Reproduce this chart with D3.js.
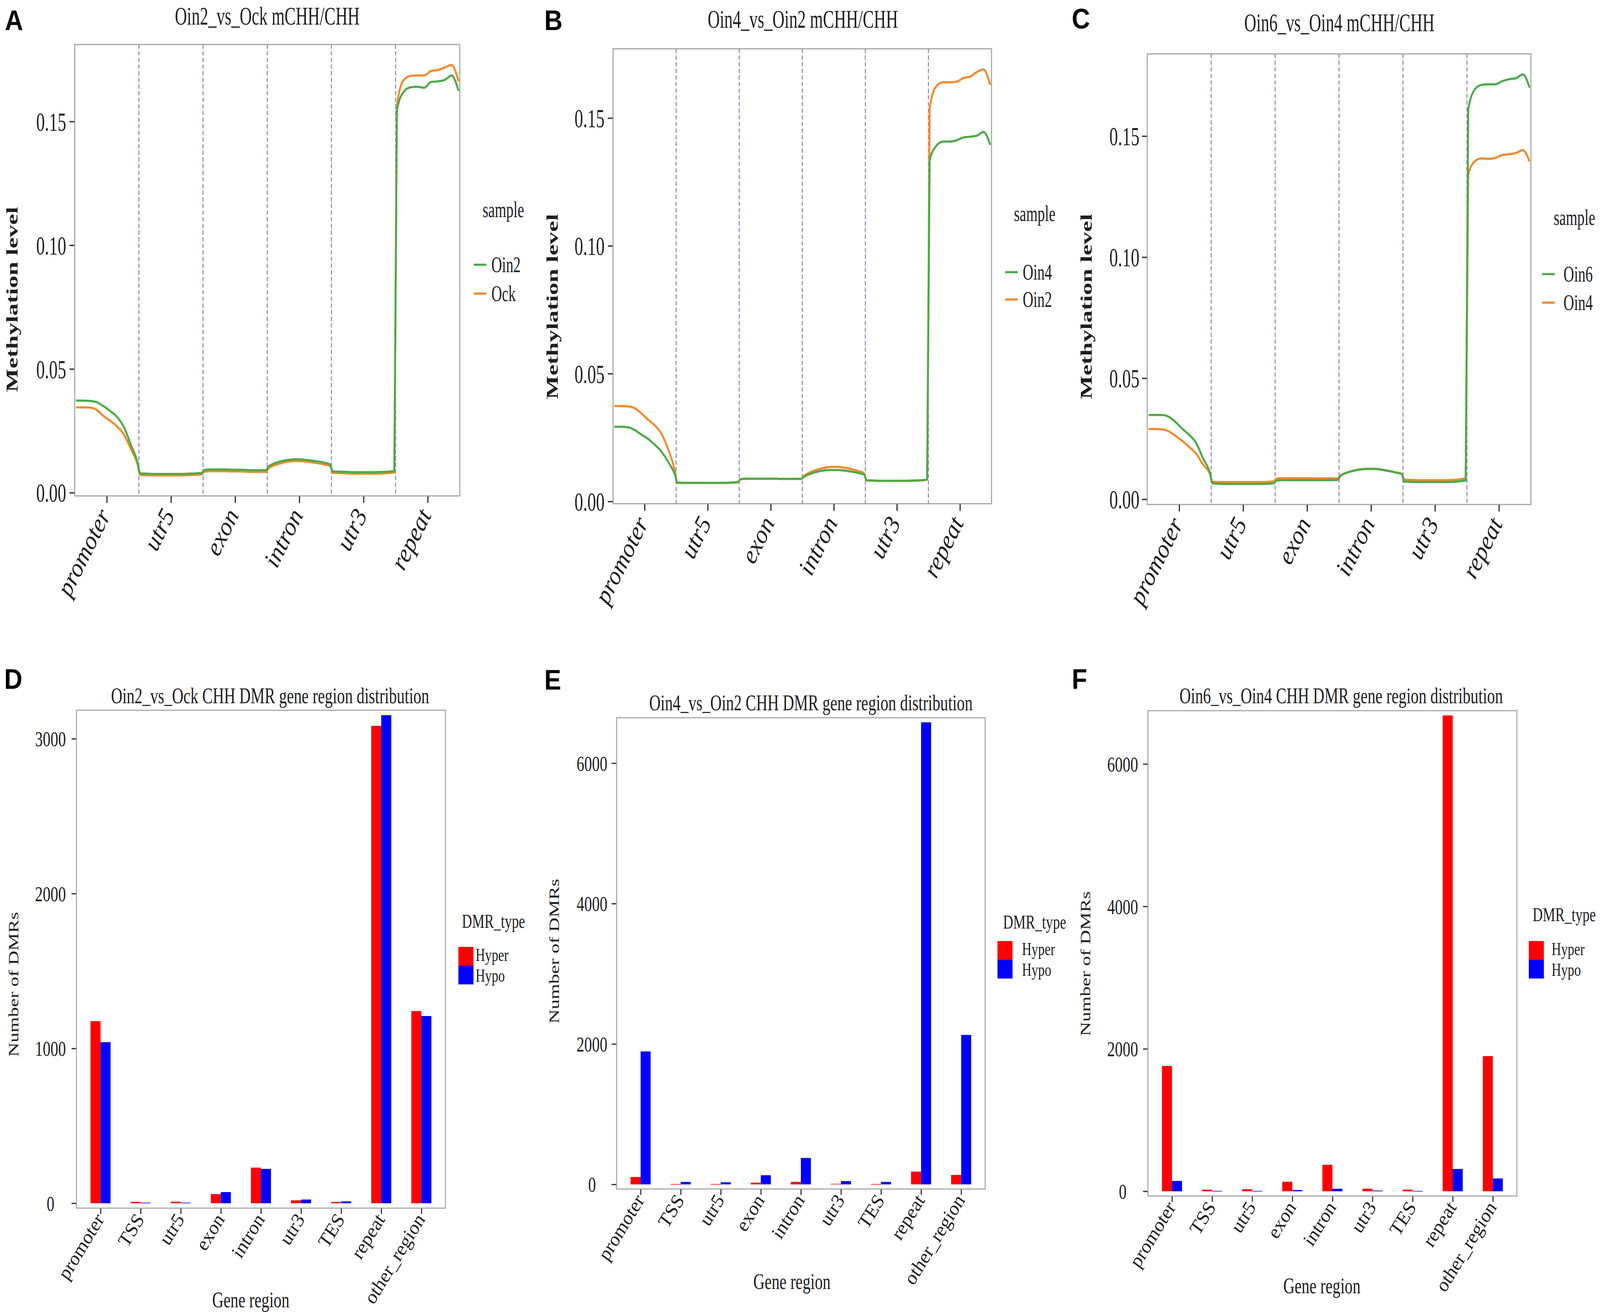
<!DOCTYPE html>
<html><head><meta charset="utf-8">
<script src="https://cdn.jsdelivr.net/npm/d3@7"></script>
<style>html,body{margin:0;padding:0;width:100%;height:100%;overflow:hidden;background:#fff}svg{display:block;background:#fff;width:100vw;height:100vh}</style>
</head><body>
<svg id="chart" viewBox="0 0 4562 3360" preserveAspectRatio="none"></svg>
<script>
// ---------------- DATA ----------------
const REGIONS = ['promoter','utr5','exon','intron','utr3','repeat'];
const LINE_Y_TICKS = [0, 0.05, 0.10, 0.15];
const GENE_REGIONS = ['promoter','TSS','utr5','exon','intron','utr3','TES','repeat','other_region'];
const D_Y_TICKS = [0, 1000, 2000, 3000];
const EF_Y_TICKS = [0, 2000, 4000, 6000];

// 10 profile bins per region (promoter, utr5, exon, intron, utr3, repeat)
const A_Oin2 = [0.0372,0.0372,0.0371,0.0366,0.0350,0.0330,0.0306,0.0265,0.0195,0.0122,
  0.0078,0.0077,0.0076,0.0076,0.0076,0.0076,0.0076,0.0077,0.0078,0.0080,
  0.0092,0.0094,0.0094,0.0094,0.0093,0.0093,0.0092,0.0091,0.0091,0.0091,
  0.0105,0.0120,0.0128,0.0133,0.0135,0.0134,0.0131,0.0127,0.0122,0.0114,
  0.0086,0.0085,0.0084,0.0083,0.0083,0.0083,0.0083,0.0084,0.0085,0.0088,
  0.1545,0.1620,0.1638,0.1640,0.1636,0.1660,0.1662,0.1668,0.1686,0.1624];
const A_Ock = [0.0345,0.0345,0.0344,0.0335,0.0310,0.0290,0.0268,0.0235,0.0178,0.0114,
  0.0072,0.0071,0.0070,0.0070,0.0070,0.0070,0.0070,0.0071,0.0072,0.0074,
  0.0085,0.0087,0.0087,0.0087,0.0086,0.0086,0.0085,0.0084,0.0084,0.0084,
  0.0098,0.0112,0.0121,0.0126,0.0128,0.0127,0.0124,0.0120,0.0115,0.0108,
  0.0080,0.0079,0.0078,0.0077,0.0077,0.0077,0.0077,0.0078,0.0079,0.0082,
  0.1565,0.1668,0.1684,0.1686,0.1686,0.1704,0.1708,0.1718,0.1728,0.1662];
const B_Oin4 = [0.0292,0.0292,0.0290,0.0280,0.0262,0.0245,0.0222,0.0195,0.0155,0.0105,
  0.0074,0.0073,0.0073,0.0073,0.0073,0.0073,0.0073,0.0073,0.0074,0.0076,
  0.0087,0.0089,0.0089,0.0089,0.0089,0.0089,0.0088,0.0088,0.0088,0.0088,
  0.0095,0.0108,0.0116,0.0121,0.0123,0.0123,0.0121,0.0117,0.0112,0.0105,
  0.0083,0.0082,0.0081,0.0081,0.0081,0.0081,0.0081,0.0082,0.0083,0.0086,
  0.1335,0.1392,0.1408,0.1408,0.1413,0.1424,0.1427,0.1431,0.1446,0.1395];
const B_Oin2 = [0.0373,0.0373,0.0372,0.0365,0.0345,0.0320,0.0298,0.0265,0.0205,0.0120,
  0.0073,0.0072,0.0072,0.0072,0.0072,0.0072,0.0072,0.0072,0.0073,0.0075,
  0.0087,0.0089,0.0089,0.0089,0.0089,0.0089,0.0088,0.0088,0.0088,0.0088,
  0.0098,0.0114,0.0124,0.0131,0.0135,0.0135,0.0132,0.0127,0.0120,0.0110,
  0.0082,0.0081,0.0080,0.0080,0.0080,0.0080,0.0080,0.0081,0.0082,0.0085,
  0.1540,0.1625,0.1640,0.1640,0.1642,0.1657,0.1662,0.1680,0.1690,0.1630];
const C_Oin6 = [0.0348,0.0348,0.0348,0.0340,0.0318,0.0290,0.0265,0.0232,0.0168,0.0110,
  0.0066,0.0064,0.0063,0.0063,0.0063,0.0063,0.0063,0.0063,0.0064,0.0066,
  0.0077,0.0079,0.0079,0.0079,0.0079,0.0079,0.0079,0.0079,0.0079,0.0080,
  0.0096,0.0110,0.0118,0.0123,0.0125,0.0125,0.0122,0.0117,0.0111,0.0104,
  0.0073,0.0072,0.0071,0.0071,0.0071,0.0071,0.0071,0.0072,0.0074,0.0078,
  0.1610,0.1694,0.1712,0.1714,0.1714,0.1727,0.1735,0.1739,0.1755,0.1700];
const C_Oin4 = [0.0290,0.0290,0.0289,0.0280,0.0261,0.0240,0.0215,0.0188,0.0143,0.0105,
  0.0073,0.0071,0.0071,0.0071,0.0071,0.0071,0.0071,0.0071,0.0072,0.0074,
  0.0085,0.0087,0.0087,0.0087,0.0087,0.0087,0.0086,0.0086,0.0086,0.0087,
  0.0097,0.0111,0.0119,0.0124,0.0126,0.0126,0.0123,0.0118,0.0112,0.0105,
  0.0081,0.0080,0.0079,0.0079,0.0079,0.0079,0.0079,0.0080,0.0082,0.0086,
  0.1340,0.1397,0.1408,0.1406,0.1410,0.1422,0.1425,0.1430,0.1442,0.1395];

// DMR counts per gene region
const D_Hyper = [1176, 9, 10, 59, 230, 19, 8, 3083, 1241];
const D_Hypo  = [1040, 4, 4, 72, 222, 24, 12, 3152, 1209];
const E_Hyper = [105, 5, 5, 24, 35, 8, 5, 182, 135];
const E_Hypo  = [1894, 35, 30, 130, 376, 47, 35, 6582, 2129];
const F_Hyper = [1759, 23, 29, 134, 372, 35, 23, 6682, 1898];
const F_Hypo  = [145, 5, 5, 17, 35, 10, 5, 313, 180];

// ---------------- STYLE / LAYOUT ----------------
const SERIF = "'Liberation Serif','Times New Roman',serif";
const SANS = "'Liberation Sans',Arial,sans-serif";
const GREEN = '#4bab48', ORANGE = '#f5892a', RED = '#ff0000', BLUE = '#0000ff';
const TXT = '#1e1e1e';
const svg = d3.select('#chart');

function label(g, str, x, y, o) {
  return g.append('text').text(str)
    .attr('transform', `translate(${x},${y}) scale(${o.s || 1},1)` + (o.rot ? ` rotate(${o.rot})` : ''))
    .attr('font-family', o.family || SERIF).attr('font-size', o.size)
    .attr('text-anchor', o.anchor || 'start').attr('font-weight', o.weight || 'normal')
    .attr('font-style', o.style || 'normal').attr('fill', o.fill || TXT);
}

const linePanels = [
  {letter:'A', title:'Oin2_vs_Ock mCHH/CHH',
   series:[{name:'Oin2', values:A_Oin2, color:GREEN},{name:'Ock', values:A_Ock, color:ORANGE}],
   box:[213,114,1311,1270], titleX:762, titleY:63, letterX:14, letterY:77,
   yLabX:146, yTitleX:50, yTitleY:767, legX:1376, legTitleY:556, keyX:1351, keyY:[678,752], labX:1401},
  {letter:'B', title:'Oin4_vs_Oin2 mCHH/CHH',
   series:[{name:'Oin4', values:B_Oin4, color:GREEN},{name:'Oin2', values:B_Oin2, color:ORANGE}],
   box:[1748,125,2827,1290], titleX:2289, titleY:71, letterX:1552, letterY:77,
   yLabX:1681, yTitleX:1590, yTitleY:785, legX:2891, legTitleY:566, keyX:2866, keyY:[697,767], labX:2916},
  {letter:'C', title:'Oin6_vs_Oin4 mCHH/CHH',
   series:[{name:'Oin6', values:C_Oin6, color:GREEN},{name:'Oin4', values:C_Oin4, color:ORANGE}],
   box:[3271,138,4365,1292], titleX:3819, titleY:80, letterX:3056, letterY:73,
   yLabX:3206, yTitleX:3113, yTitleY:785, legX:4430, legTitleY:576, keyX:4397, keyY:[702,775], labX:4458}
];

const barPanels = [
  {letter:'D', title:'Oin2_vs_Ock CHH DMR gene region distribution', hyper:D_Hyper, hypo:D_Hypo, ticks:D_Y_TICKS,
   box:[218,1819,1270,3094], titleX:770, titleY:1801, letterX:12, letterY:1764,
   yLabX:144, yTitleX:52, yTitleY:2521, xTitleX:715, xTitleY:3348,
   legX:1317, legTitleY:2376, keyX:1307, keyY:2425, labX:1356},
  {letter:'E', title:'Oin4_vs_Oin2 CHH DMR gene region distribution', hyper:E_Hyper, hypo:E_Hypo, ticks:EF_Y_TICKS,
   box:[1758,1838,2809,3045], titleX:2312, titleY:1819, letterX:1552, letterY:1766,
   yLabX:1688, yTitleX:1594, yTitleY:2436, xTitleX:2258, xTitleY:3301,
   legX:2860, legTitleY:2378, keyX:2844, keyY:2410, labX:2914},
  {letter:'F', title:'Oin6_vs_Oin4 CHH DMR gene region distribution', hyper:F_Hyper, hypo:F_Hypo, ticks:EF_Y_TICKS,
   box:[3273,1820,4325,3063], titleX:3824, titleY:1801, letterX:3056, letterY:1764,
   yLabX:3201, yTitleX:3108, yTitleY:2468, xTitleX:3769, xTitleY:3312,
   legX:4370, legTitleY:2359, keyX:4359, keyY:2410, labX:4424}
];

// ---------------- LINE PANELS ----------------
function drawLinePanel(p) {
  const S = 0.72;
  const [x0, y0, x1, y1] = p.box;
  const g = svg.append('g');
  const all = p.series.flatMap(s => s.values);
  const mn = d3.min(all), mx = d3.max(all), pad = (mx - mn) * 0.05;
  const y = d3.scaleLinear().domain([mn - pad, mx + pad]).range([y1, y0]);
  const x = d3.scaleLinear().domain([0, REGIONS.length]).range([x0, x1]);
  const nb = p.series[0].values.length / REGIONS.length;
  const xpos = i => Math.floor(i / nb) + 0.02 + 0.96 * (i % nb) / (nb - 1);

  g.append('rect').attr('x', x0).attr('y', y0).attr('width', x1 - x0).attr('height', y1 - y0)
    .attr('fill', '#fff').attr('stroke', '#a3a3a3').attr('stroke-width', 3);

  g.selectAll('.div').data(d3.range(1, REGIONS.length)).join('line')
    .attr('x1', d => x(d)).attr('x2', d => x(d)).attr('y1', y0).attr('y2', y1)
    .attr('stroke', '#9580ad').attr('stroke-width', 2.8).attr('stroke-dasharray', '11,6');

  const line = d3.line().x((d, i) => x(xpos(i))).y(d => y(d)).curve(d3.curveMonotoneX);
  p.series.slice().reverse().forEach(s => {
    g.append('path').attr('d', line(s.values)).attr('fill', 'none')
      .attr('stroke', s.color).attr('stroke-width', 5.5).attr('stroke-linejoin', 'round');
  });

  const ya = g.append('g').attr('transform', `translate(${x0 - 1},0)`)
    .call(d3.axisLeft(y).tickValues(LINE_Y_TICKS).tickSize(14).tickFormat(d3.format('.2f')));
  ya.attr('font-size', null).attr('font-family', null);
  ya.select('.domain').remove();
  ya.selectAll('.tick line').attr('stroke', '#333').attr('stroke-width', 3.5);
  ya.selectAll('.tick text').attr('x', null).attr('dy', null).attr('text-anchor', 'middle')
    .attr('transform', `translate(${p.yLabX - x0 + 1},${0.34 * 68}) scale(${S},1)`)
    .attr('font-size', 68).attr('font-family', SERIF).attr('fill', TXT);

  const xa = g.append('g').attr('transform', `translate(0,${y1 + 1})`)
    .call(d3.axisBottom(x).tickValues(REGIONS.map((r, i) => i + 0.5)).tickSize(17)
      .tickFormat(d => REGIONS[Math.floor(d)]));
  xa.attr('font-size', null).attr('font-family', null);
  xa.select('.domain').remove();
  xa.selectAll('.tick line').attr('stroke', '#333').attr('stroke-width', 3.5);
  xa.selectAll('.tick text').attr('x', null).attr('y', null).attr('dy', null).attr('text-anchor', 'end')
    .attr('transform', 'translate(12,48) rotate(-61)')
    .attr('font-size', 66).attr('font-family', SERIF).attr('font-style', 'italic').attr('fill', TXT);

  label(g, p.title, p.titleX, p.titleY, {size: 66, s: S, anchor: 'middle'});
  label(g, p.letter, p.letterX, p.letterY, {size: 72, family: SANS, weight: 'bold', fill: '#000'});
  label(g, 'Methylation level', p.yTitleX, p.yTitleY, {size: 64, s: S, rot: -90, anchor: 'middle', weight: 'bold'});

  label(g, 'sample', p.legX, p.legTitleY, {size: 58, s: S});
  p.series.forEach((s, i) => {
    g.append('line').attr('x1', p.keyX).attr('x2', p.keyX + 36).attr('y1', p.keyY[i]).attr('y2', p.keyY[i])
      .attr('stroke', s.color).attr('stroke-width', 5.5);
    label(g, s.name, p.labX, p.keyY[i] + 19, {size: 58, s: S});
  });
}

// ---------------- BAR PANELS ----------------
function drawBarPanel(p) {
  const S = 0.8;
  const [x0, y0, x1, y1] = p.box;
  const g = svg.append('g');
  const mx = d3.max([...p.hyper, ...p.hypo]);
  const y = d3.scaleLinear().domain([-0.01 * mx, 1.01 * mx]).range([y1, y0]);
  const x = d3.scaleLinear().domain([0.4, GENE_REGIONS.length + 0.6]).range([x0, x1]);
  const bw = 0.25;

  g.append('rect').attr('x', x0).attr('y', y0).attr('width', x1 - x0).attr('height', y1 - y0)
    .attr('fill', '#fff').attr('stroke', '#a8a8a8').attr('stroke-width', 3);

  const rows = GENE_REGIONS.map((r, i) => ({i: i + 1, hyper: p.hyper[i], hypo: p.hypo[i]}));
  g.selectAll('.hyper').data(rows).join('rect')
    .attr('x', d => x(d.i - bw)).attr('width', d => x(d.i) - x(d.i - bw))
    .attr('y', d => y(d.hyper)).attr('height', d => Math.max(1.5, y(0) - y(d.hyper))).attr('fill', RED);
  g.selectAll('.hypo').data(rows).join('rect')
    .attr('x', d => x(d.i)).attr('width', d => x(d.i + bw) - x(d.i))
    .attr('y', d => y(d.hypo)).attr('height', d => Math.max(1.5, y(0) - y(d.hypo))).attr('fill', BLUE);

  const ya = g.append('g').attr('transform', `translate(${x0 - 1},0)`)
    .call(d3.axisLeft(y).tickValues(p.ticks).tickSize(13).tickFormat(d3.format('d')));
  ya.attr('font-size', null).attr('font-family', null);
  ya.select('.domain').remove();
  ya.selectAll('.tick line').attr('stroke', '#333').attr('stroke-width', 3.2);
  ya.selectAll('.tick text').attr('x', null).attr('dy', null).attr('text-anchor', 'middle')
    .attr('transform', `translate(${p.yLabX - x0 + 1},${0.34 * 55}) scale(${S},1)`)
    .attr('font-size', 55).attr('font-family', SERIF).attr('fill', TXT);

  const xa = g.append('g').attr('transform', `translate(0,${y1 + 1})`)
    .call(d3.axisBottom(x).tickValues(d3.range(1, GENE_REGIONS.length + 1)).tickSize(14)
      .tickFormat(d => GENE_REGIONS[d - 1]));
  xa.attr('font-size', null).attr('font-family', null);
  xa.select('.domain').remove();
  xa.selectAll('.tick line').attr('stroke', '#333').attr('stroke-width', 3.2);
  xa.selectAll('.tick text').attr('x', null).attr('y', null).attr('dy', null).attr('text-anchor', 'end')
    .attr('transform', 'translate(12,28) rotate(-56)')
    .attr('font-size', 52).attr('font-family', SERIF).attr('fill', TXT);

  label(g, p.title, p.titleX, p.titleY, {size: 56, s: S, anchor: 'middle'});
  label(g, p.letter, p.letterX, p.letterY, {size: 72, family: SANS, weight: 'bold', fill: '#000'});
  label(g, 'Number of DMRs', p.yTitleX, p.yTitleY, {size: 51, s: S, rot: -90, anchor: 'middle'});
  label(g, 'Gene region', p.xTitleX, p.xTitleY, {size: 56, s: S, anchor: 'middle'});

  label(g, 'DMR_type', p.legX, p.legTitleY, {size: 50, s: S});
  [['Hyper', RED], ['Hypo', BLUE]].forEach(([nm, c], i) => {
    g.append('rect').attr('x', p.keyX).attr('y', p.keyY + i * 48).attr('width', 43).attr('height', 48).attr('fill', c);
    label(g, nm, p.labX, p.keyY + 36 + i * 53, {size: 47, s: S});
  });
}

linePanels.forEach(drawLinePanel);
barPanels.forEach(drawBarPanel);
</script>
</body></html>
